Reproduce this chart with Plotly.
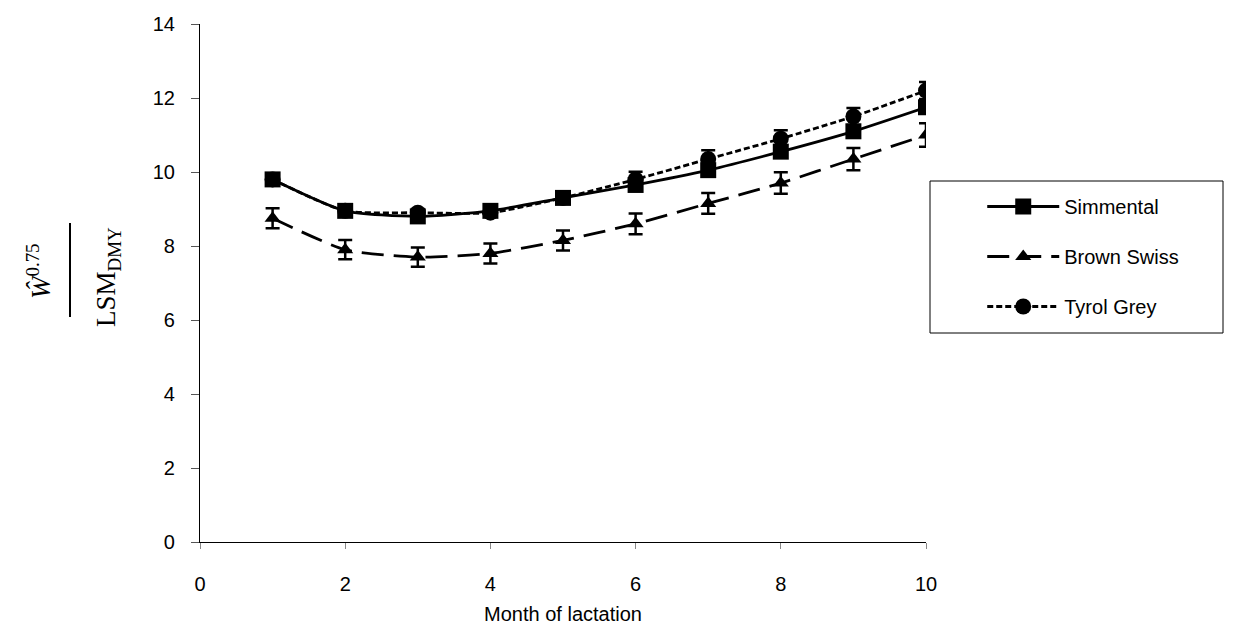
import plotly.graph_objects as go

months = [1, 2, 3, 4, 5, 6, 7, 8, 9, 10]
simmental = [9.8, 8.95, 8.8, 8.95, 9.3, 9.65, 10.05, 10.55, 11.1, 11.75]
brown_swiss = [8.75, 7.9, 7.7, 7.8, 8.15, 8.6, 9.15, 9.7, 10.35, 11.0]
tyrol_grey = [9.8, 8.95, 8.9, 8.9, 9.3, 9.8, 10.35, 10.9, 11.5, 12.2]
err_sim = [0.12, 0.12, 0.12, 0.12, 0.12, 0.13, 0.13, 0.14, 0.15, 0.15]
err_bs = [0.27, 0.26, 0.26, 0.27, 0.27, 0.28, 0.28, 0.29, 0.3, 0.32]
err_tg = [0.1, 0.1, 0.1, 0.1, 0.13, 0.21, 0.24, 0.23, 0.23, 0.23]

x_ticks = [0, 2, 4, 6, 8, 10]
y_ticks = [0, 2, 4, 6, 8, 10, 12, 14]

OFF = 8  # page body margin
W, H = 1234 - OFF, 625 - OFF
L, T = 200 - OFF, 24 - OFF
R = W - (926 - OFF)
B = H - (542 - OFF)
pw, ph = W - L - R, H - T - B

def px_x(sx):
    return (sx - OFF - L) / pw

def px_y(sy):
    return (H - B - (sy - OFF)) / ph

fig = go.Figure()

def add(name, y, err, symbol, size, dash, group, rank):
    fig.add_trace(go.Scatter(
        x=months, y=y, name=name, mode="lines+markers",
        legendgroup=group, legendrank=rank,
        line=dict(color="black", width=2.8, dash=dash, shape="spline", smoothing=0.6),
        marker=dict(symbol=symbol, size=size, color="black"),
        error_y=dict(type="data", array=err, visible=True, color="black", thickness=2.5, width=7),
    ))

nb = "\u00a0"
add("Tyrol Grey", tyrol_grey, err_tg, "circle", 16, "6px,3px", "c", 3)
add("Brown Swiss", brown_swiss, err_bs, "triangle-up", 14, "22px,10px", "b", 2)
add("Simmental", simmental, err_sim, "square", 16, "solid", "a", 1)

axis_font = dict(family="Liberation Sans, Arial, sans-serif", size=20, color="black")

fig.update_layout(
    width=W, height=H,
    margin=dict(l=L, r=R, t=T, b=B, autoexpand=False),
    paper_bgcolor="white", plot_bgcolor="white",
    showlegend=True,
    legend=dict(
        x=px_x(930), y=px_y(187), xanchor="left", yanchor="top",
        borderwidth=0, bgcolor="rgba(0,0,0,0)",
        font=dict(family="Liberation Sans, Arial, sans-serif", size=20, color="black"),
        traceorder="grouped", tracegroupgap=21,
        itemwidth=72,
        title=dict(text=nb * 8, side="left", font=dict(size=19)),
    ),
    xaxis=dict(
        range=[0, 10], tickvals=x_ticks, ticks="outside", ticklen=6,
        tickcolor="#888", showline=True, linecolor="black", linewidth=1.2,
        showgrid=False, zeroline=False, tickfont=axis_font, ticklabelstandoff=18,
        title=dict(text="Month of lactation", font=axis_font, standoff=14),
    ),
    yaxis=dict(
        range=[0, 14], tickvals=y_ticks, ticks="outside", ticklen=8,
        tickcolor="#555", showline=True, linecolor="black", linewidth=1.2,
        showgrid=False, zeroline=False, tickfont=axis_font, ticklabelstandoff=12,
    ),
)

# legend frame
fig.add_shape(
    type="rect", xref="paper", yref="paper",
    x0=px_x(930), x1=px_x(1223), y0=px_y(333), y1=px_y(181),
    line=dict(color="black", width=1), fillcolor="rgba(0,0,0,0)", layer="below",
)

serif = "Liberation Serif, Times New Roman, serif"
fig.add_annotation(
    xref="paper", yref="paper", x=px_x(39), y=px_y(271),
    xanchor="center", yanchor="middle",
    text="<i>Ŵ</i><sup>0.75</sup>", showarrow=False, textangle=-90,
    font=dict(family=serif, size=27, color="black"),
)
fig.add_annotation(
    xref="paper", yref="paper", x=px_x(108), y=px_y(277),
    xanchor="center", yanchor="middle",
    text="LSM<sub>DMY</sub>", showarrow=False, textangle=-90,
    font=dict(family=serif, size=27, color="black"),
)
fig.add_shape(
    type="line", xref="paper", yref="paper",
    x0=px_x(70), x1=px_x(70), y0=px_y(223), y1=px_y(317),
    line=dict(color="black", width=2),
)

fig.write_html("out.html")
